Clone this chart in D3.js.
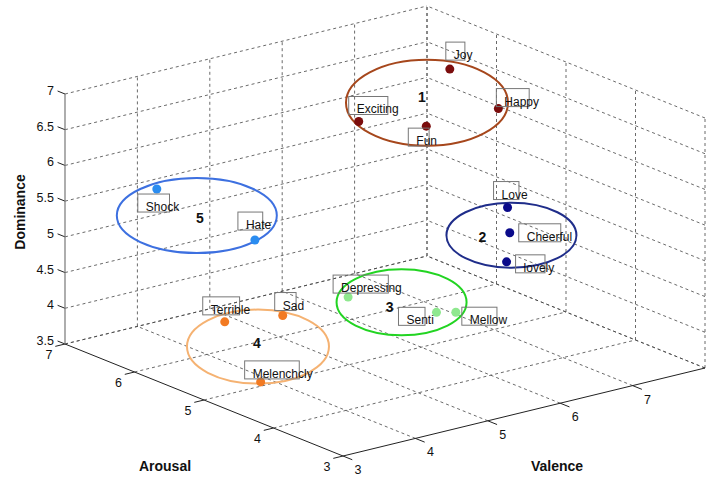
<!DOCTYPE html>
<html><head><meta charset="utf-8">
<script src="https://cdn.jsdelivr.net/npm/d3@7/dist/d3.min.js"></script>
<style>body{margin:0;background:#fff}svg{display:block}text{font-family:"Liberation Sans",Arial,sans-serif}</style>
</head><body>
<svg id="c" width="713" height="477"></svg>
<script>
// ---- data ----
const words     = ["Joy","Happy","Exciting","Fun","Love","Cheerful","lovely","Depressing","Senti","Mellow","Terrible","Sad","Melenchcly","Shock","Hate"];
const cluster   = [1,1,1,1,2,2,2,3,3,3,4,4,4,5,5];
const valence   = [7.0,7.2,6.5,6.8,7.5,7.3,7.4,3.8,4.8,5.0,3.2,3.3,3.6,3.5,3.3];
const arousal   = [5.63,5.14,6.42,5.76,5.32,5.08,5.23,3.76,3.53,3.46,4.91,4.18,4.81,6.20,4.58];
const dominance = [6.90,6.49,5.98,6.10,4.96,4.75,4.26,5.23,4.86,4.84,4.58,4.93,3.68,5.86,5.83];

const clusterIds      = [1,2,3,4,5];
const clusterValence  = [6.8,7.4,4.5,3.4,3.4];
const clusterArousal  = [5.75,5.16,3.72,4.64,5.52];
const clusterDominance= [6.43,4.66,5.0,4.29,5.78];

const valenceTicks   = [3,4,5,6,7];
const arousalTicks   = [3,4,5,6,7];
const dominanceTicks = [3.5,4,4.5,5,5.5,6,6.5,7];

// ---- styles / layout ----
const pointColors   = {1:"#7b0d0d",2:"#0a0a8a",3:"#8fe88f",4:"#f27a22",5:"#2a8cf0"};
const ellipseColors = {1:"#a6471c",2:"#1f2d8a",3:"#22d422",4:"#f5b272",5:"#3d70e0"};
const ellipseRadii  = {1:[81,43],2:[65,32.5],3:[65,33],4:[71,37],5:[80,37.5]};
const numberOffsets = {1:[-5,-6],2:[-29,1.5],3:[-12,5],4:[-1,-4],5:[3,2.5]};
// label box top-left offset relative to the point (px)
const labelOffsets = {
  "Joy":[-4,-27],"Happy":[-2,-20],"Exciting":[-10,-25],"Fun":[-18,2],
  "Love":[-14,-26],"Cheerful":[9,-9],"lovely":[9,-7],
  "Depressing":[-15,-22],"Senti":[-38,-5],"Mellow":[6,-5],
  "Terrible":[-22,-25],"Sad":[-8,-23],"Melenchcly":[-16,-21],
  "Shock":[-19,5],"Hate":[-17,-28]
};

const svg = d3.select("#c");
const vS = d3.scaleLinear().domain([3,8]).range([0,1]);
const aS = d3.scaleLinear().domain([3,7]).range([0,1]);
const dS = d3.scaleLinear().domain([3.5,7]).range([0,1]);
const O=[343,456], V=[362,-88], A=[-278,-112], D=[0,-250];
function P(v,a,d){
  const fv=vS(v), fa=aS(a), fd=dS(d);
  return [O[0]+fv*V[0]+fa*A[0]+fd*D[0], O[1]+fv*V[1]+fa*A[1]+fd*D[1]];
}
const vMax=vS.domain()[1], vMin=vS.domain()[0];
const aMax=aS.domain()[1], aMin=aS.domain()[0];
const dMax=dS.domain()[1], dMin=dS.domain()[0];

const grid = svg.append("g").attr("stroke","#444").attr("stroke-width",0.8)
  .attr("stroke-dasharray","3,3").attr("fill","none");
function seg(g,p,q){ g.append("line").attr("x1",p[0]).attr("y1",p[1]).attr("x2",q[0]).attr("y2",q[1]); }
const vGrid=[4,5,6,7,8], aGrid=[4,5,6,7], aWall=[3,4,5,6,7];
// floor
vGrid.forEach(v=>seg(grid,P(v,aMin,dMin),P(v,aMax,dMin)));
aGrid.forEach(a=>seg(grid,P(vMin,a,dMin),P(vMax,a,dMin)));
// back wall (arousal = max)
vGrid.forEach(v=>seg(grid,P(v,aMax,dMin),P(v,aMax,dMax)));
dominanceTicks.forEach(d=>seg(grid,P(vMin,aMax,d),P(vMax,aMax,d)));
// right wall (valence = max)
aWall.forEach(a=>seg(grid,P(vMax,a,dMin),P(vMax,a,dMax)));
dominanceTicks.forEach(d=>seg(grid,P(vMax,aMin,d),P(vMax,aMax,d)));

// axes
const ax = svg.append("g").attr("stroke","#222").attr("stroke-width",1).attr("fill","none");
seg(ax,P(vMin,aMin,dMin),P(vMax,aMin,dMin));
seg(ax,P(vMin,aMin,dMin),P(vMin,aMax,dMin));
svg.append("line").attr("stroke","#777").attr("stroke-width",1.2)
  .attr("x1",P(vMin,aMax,dMin)[0]).attr("y1",P(vMin,aMax,dMin)[1])
  .attr("x2",P(vMin,aMax,dMax)[0]).attr("y2",P(vMin,aMax,dMax)[1]);
function unit(w){const l=Math.hypot(w[0],w[1]);return [w[0]/l,w[1]/l];}
const uA=unit(A), uV=unit(V);
const lab = svg.append("g").attr("font-size",12.5).attr("fill","#111");
valenceTicks.forEach(v=>{
  const p=P(v,aMin,dMin);
  seg(ax,p,[p[0]-uA[0]*10,p[1]-uA[1]*10]);
  lab.append("text").attr("x",p[0]+15).attr("y",p[1]+14).attr("text-anchor","middle")
    .attr("dominant-baseline","central").text(v);
});
arousalTicks.forEach(a=>{
  const p=P(vMin,a,dMin);
  seg(ax,p,[p[0]-uV[0]*10,p[1]-uV[1]*10]);
  lab.append("text").attr("x",p[0]-16).attr("y",p[1]+11).attr("text-anchor","middle")
    .attr("dominant-baseline","central").text(a);
});
dominanceTicks.forEach(d=>{
  const p=P(vMin,aMax,d);
  seg(ax,p,[p[0]+uA[0]*8,p[1]+uA[1]*8]);
  lab.append("text").attr("x",p[0]-11).attr("y",p[1]-3).attr("text-anchor","end")
    .attr("dominant-baseline","central").text(d);
});
// axis titles
const tt = svg.append("g").attr("font-size",14).attr("font-weight","bold").attr("fill","#111");
tt.append("text").attr("x",557).attr("y",466).attr("text-anchor","middle").attr("dominant-baseline","central").text("Valence");
tt.append("text").attr("x",165).attr("y",466).attr("text-anchor","middle").attr("dominant-baseline","central").text("Arousal");
tt.append("text").attr("transform","translate(20,212) rotate(-90)").attr("text-anchor","middle").attr("dominant-baseline","central").text("Dominance");

// ellipses
clusterIds.forEach((c,i)=>{
  const p=P(clusterValence[i],clusterArousal[i],clusterDominance[i]);
  svg.append("ellipse").attr("cx",p[0]).attr("cy",p[1])
    .attr("rx",ellipseRadii[c][0]).attr("ry",ellipseRadii[c][1])
    .attr("fill","none").attr("stroke",ellipseColors[c]).attr("stroke-width",2);
  svg.append("text").attr("x",p[0]+numberOffsets[c][0]).attr("y",p[1]+numberOffsets[c][1])
    .attr("text-anchor","middle").attr("dominant-baseline","central")
    .attr("font-size",14).attr("font-weight","bold").attr("fill","#111").text(c);
});

// points
const pts = words.map((w,i)=>({w,c:cluster[i],p:P(valence[i],arousal[i],dominance[i])}));
svg.append("g").selectAll("circle").data(pts).join("circle")
  .attr("cx",d=>d.p[0]).attr("cy",d=>d.p[1]).attr("r",4.5)
  .attr("fill",d=>pointColors[d.c]);

// labels with boxes
const lg = svg.append("g");
pts.forEach(d=>{
  const off=labelOffsets[d.w];
  const bx=d.p[0]+off[0], by=d.p[1]+off[1];
  const t=lg.append("text").attr("x",bx+8).attr("y",by+13).attr("dominant-baseline","central")
    .attr("font-size",12).attr("fill","#111").text(d.w);
  const tw=t.node().getComputedTextLength();
  lg.insert("rect","text").attr("x",bx).attr("y",by).attr("width",tw*0.86+3).attr("height",18)
    .attr("fill","none").attr("stroke","#777").attr("stroke-width",1);
});
</script>
</body></html>
